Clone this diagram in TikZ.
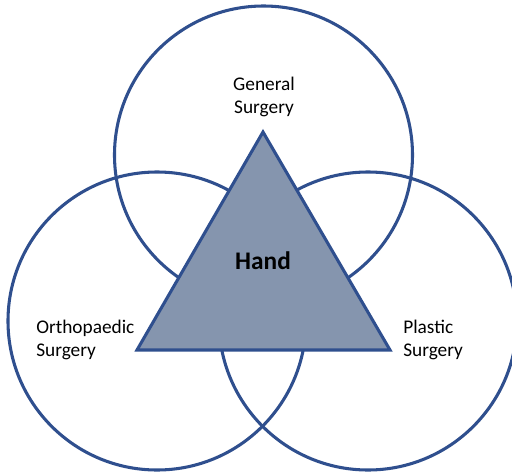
\documentclass[tikz,border=0pt]{standalone}
\usepackage{fontspec}
\setmainfont{Carlito}
\begin{document}
\begin{tikzpicture}[x=0.75pt,y=-0.75pt,
  ring/.style={draw=linec,line width=2.3pt,circle,minimum size=223.5pt,inner sep=0pt,outer sep=0pt},
  lbl/.style={font=\fontsize{14.5}{17.5}\selectfont,align=left,inner sep=0pt},
  ]
\definecolor{linec}{HTML}{2F4F8E}
\definecolor{fillc}{HTML}{8595AE}
\path[use as bounding box] (0,0) rectangle (512,472);
\clip (0,0) rectangle (512,472);
\fill[white] (0,0) rectangle (512,472);
\node[ring] (gen) at (263.5,155) {};
\node[ring] (orth) at (157,321) {};
\node[ring] (plas) at (368,321) {};
\coordinate (apex) at (263,132);
\coordinate (bl) at (137,350);
\coordinate (br) at (390,350);
\filldraw[draw=linec,fill=fillc,line width=2.3pt,line join=miter] (apex) -- (bl) -- (br) -- cycle;
\node[lbl,align=center] (tgen) at (264,97) {General\\Surgery};
\node[lbl,anchor=west] (torth) at (36,340) {Orthopaedic\\Surgery};
\node[lbl,anchor=west] (tplas) at (403,340) {Plastic\\Surgery};
\node[inner sep=0pt,font=\fontsize{19}{22}\selectfont\bfseries] (hand) at (263,261) {Hand};
\end{tikzpicture}
\end{document}
